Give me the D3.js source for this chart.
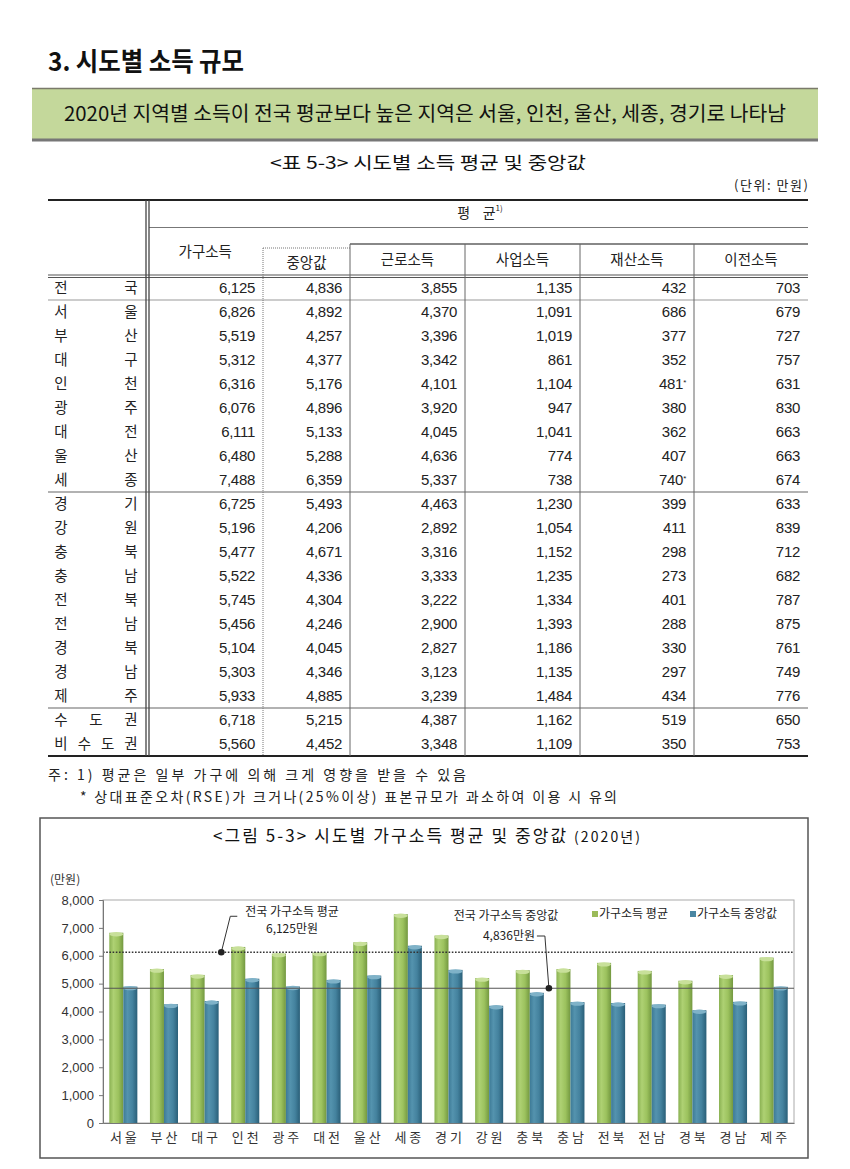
<!DOCTYPE html>
<html><head><meta charset="utf-8">
<script src="https://cdn.jsdelivr.net/npm/d3@7"></script>
<style>
body{margin:0;background:#fff;}
svg text{font-family:"Noto Sans CJK KR","Noto Sans",sans-serif;white-space:pre;}
.num{font-family:"Liberation Sans","Noto Sans CJK KR",sans-serif;}
</style></head><body>
<svg id="c" width="850" height="1169"></svg>
<script>
// ---------- DATA ----------
const regions = ["전국","서울","부산","대구","인천","광주","대전","울산","세종","경기","강원","충북","충남","전북","전남","경북","경남","제주","수도권","비수도권"];
const householdAvg    = [6125,6826,5519,5312,6316,6076,6111,6480,7488,6725,5196,5477,5522,5745,5456,5104,5303,5933,6718,5560];
const householdMedian = [4836,4892,4257,4377,5176,4896,5133,5288,6359,5493,4206,4671,4336,4304,4246,4045,4346,4885,5215,4452];
const laborIncome     = [3855,4370,3396,3342,4101,3920,4045,4636,5337,4463,2892,3316,3333,3222,2900,2827,3123,3239,4387,3348];
const businessIncome  = [1135,1091,1019,861,1104,947,1041,774,738,1230,1054,1152,1235,1334,1393,1186,1135,1484,1162,1109];
const propertyIncome  = [432,686,377,352,481,380,362,407,740,399,411,298,273,401,288,330,297,434,519,350];
const transferIncome  = [703,679,727,757,631,830,663,663,674,633,839,712,682,787,875,761,749,776,650,753];
const columnNames = ["가구소득","중앙값","근로소득","사업소득","재산소득","이전소득"];
const rseFlagged = [["인천","재산소득"],["세종","재산소득"]];
const chartRegions = regions.slice(1,18);
const chartAvg = householdAvg.slice(1,18);
const chartMedian = householdMedian.slice(1,18);
const yTickValues = [0,1000,2000,3000,4000,5000,6000,7000,8000];
const seriesNames = ["가구소득 평균","가구소득 중앙값"];
const nationalAvg = householdAvg[0], nationalMedian = householdMedian[0];

// ---------- LAYOUT ----------
const svg = d3.select("#c");
const fmt = d3.format(",");

// Heading
svg.append("text").attr("x",48).attr("y",71).attr("font-size",26).attr("font-weight",700)
  .attr("fill","#111").attr("textLength",196).attr("lengthAdjust","spacingAndGlyphs")
  .text("3. 시도별 소득 규모");

// Banner
svg.append("rect").attr("x",32).attr("y",88).attr("width",786).attr("height",52).attr("fill","#c4d89b");
svg.append("line").attr("x1",32).attr("x2",818).attr("y1",88.5).attr("y2",88.5).attr("stroke","#7a7a6a").attr("stroke-width",1.5);
svg.append("line").attr("x1",32).attr("x2",818).attr("y1",140).attr("y2",140).attr("stroke","#777").attr("stroke-width",3);
svg.append("text").attr("x",425).attr("y",114).attr("dy","0.36em").attr("text-anchor","middle")
  .attr("font-size",20).attr("fill","#111").attr("textLength",722).attr("lengthAdjust","spacingAndGlyphs")
  .text("2020년 지역별 소득이 전국 평균보다 높은 지역은 서울, 인천, 울산, 세종, 경기로 나타남");

// Table title
svg.append("text").attr("x",428).attr("y",163).attr("dy","0.36em").attr("text-anchor","middle")
  .attr("font-size",17).attr("fill","#111").attr("textLength",316).attr("lengthAdjust","spacingAndGlyphs")
  .text("<표 5-3> 시도별 소득 평균 및 중앙값");
svg.append("text").attr("x",808).attr("y",185).attr("dy","0.36em").attr("text-anchor","end")
  .attr("font-size",13).attr("fill","#222").attr("textLength",74).attr("lengthAdjust","spacing").text("(단위: 만원)");

// Table structure
const T = {left:48,right:808,top:200,headBottom:276,rowH:24};
const colEdges = [147.5,263,350,465,580,694,808];
const colData = [householdAvg,householdMedian,laborIncome,businessIncome,propertyIncome,transferIncome];
const tb = svg.append("g");
const rowY = d3.scaleLinear().domain([0,1]).range([T.headBottom, T.headBottom+T.rowH]);
const bottomY = rowY(regions.length);
function hline(x1,x2,y,w,c,dash){const l=tb.append("line").attr("x1",x1).attr("x2",x2).attr("y1",y).attr("y2",y).attr("stroke",c).attr("stroke-width",w); if(dash) l.attr("stroke-dasharray",dash); return l;}
function vline(x,y1,y2,w,c,dash){const l=tb.append("line").attr("x1",x).attr("x2",x).attr("y1",y1).attr("y2",y2).attr("stroke",c).attr("stroke-width",w); if(dash) l.attr("stroke-dasharray",dash); return l;}
hline(T.left,T.right,T.top,2,"#222");
hline(149,T.right,227.5,1,"#777");
hline(350,T.right,244,2,"#888");
hline(263,350,248,1,"#777","1,1");
hline(T.left,T.right,275,1.2,"#555");
hline(T.left,T.right,277.5,1.2,"#555");
hline(T.left,T.right,rowY(1),1,"#999");
hline(T.left,T.right,rowY(9),1.2,"#666");
hline(T.left,T.right,rowY(18),1.2,"#666");
hline(T.left,T.right,bottomY,2,"#222");
vline(146,T.top,bottomY,1.3,"#444");
vline(149,T.top,bottomY,1.3,"#444");
vline(263,248,bottomY,1,"#777","1,1");
[350,465,580,694].forEach(x=>vline(x,244,bottomY,1,"#666"));

// Header text
const hdr = tb.append("text").attr("x",480).attr("y",213).attr("dy","0.36em").attr("text-anchor","middle")
  .attr("font-size",14).attr("fill","#222");
hdr.append("tspan").text("평    균");
hdr.append("tspan").attr("font-size",8).attr("dy","-0.9em").text("1)");
const headerY = [252,263,260,260,260,260];
columnNames.forEach((n,i)=>{
  tb.append("text").attr("x",(colEdges[i]+colEdges[i+1])/2).attr("y",headerY[i]).attr("dy","0.36em")
    .attr("text-anchor","middle").attr("font-size",14.5).attr("fill","#222").text(n);
});

// Rows
regions.forEach((r,ri)=>{
  const cy = rowY(ri+0.5);
  const chars = r.split("");
  const px = d3.scaleLinear().domain([0,chars.length-1]).range([61,131]);
  chars.forEach((ch,ci)=>{
    tb.append("text").attr("x",px(ci)).attr("y",cy).attr("dy","0.36em").attr("text-anchor","middle")
      .attr("font-size",14.5).attr("fill","#222").text(ch);
  });
  colData.forEach((arr,ci)=>{
    const flagged = rseFlagged.some(f=>f[0]===r && f[1]===columnNames[ci]);
    const t = tb.append("text").attr("class","num").attr("x",colEdges[ci+1]-8).attr("y",cy).attr("dy","0.36em")
      .attr("text-anchor","end").attr("font-size",15).attr("letter-spacing","-0.3").attr("fill","#222");
    if(flagged){
      t.append("tspan").text(fmt(arr[ri]));
      t.append("tspan").attr("font-size",8).attr("dy","-0.6em").text("*");
    } else t.text(fmt(arr[ri]));
  });
});

// Notes
svg.append("text").attr("x",48).attr("y",775).attr("dy","0.36em").attr("font-size",14).attr("fill","#222")
  .attr("textLength",418).attr("lengthAdjust","spacing").text("주: 1) 평균은 일부 가구에 의해 크게 영향을 받을 수 있음");
svg.append("text").attr("x",80).attr("y",797).attr("dy","0.36em").attr("font-size",14).attr("fill","#222")
  .attr("textLength",537).attr("lengthAdjust","spacing").text("* 상대표준오차(RSE)가 크거나(25%이상) 표본규모가 과소하여 이용 시 유의");

// ---------- CHART ----------
const box = {x:40,y:818,w:768,h:340};
svg.append("rect").attr("x",box.x).attr("y",box.y).attr("width",box.w).attr("height",box.h)
  .attr("fill","#fff").attr("stroke","#555").attr("stroke-width",1.5);
const ct = svg.append("text").attr("x",213).attr("y",836).attr("dy","0.36em")
  .attr("fill","#111").attr("textLength",427).attr("lengthAdjust","spacing");
ct.append("tspan").attr("font-size",17).text("<그림 5-3> 시도별 가구소득 평균 및 중앙값 ");
ct.append("tspan").attr("font-size",14).text("(2020년)");

const P = {l:103,r:794,t:900,b:1123};
const x0 = d3.scaleBand().domain(chartRegions).range([P.l,P.r]).paddingInner(0.31).paddingOuter(0.155);
const x1 = d3.scaleBand().domain(seriesNames).range([0,x0.bandwidth()]);
const y = d3.scaleLinear().domain([0,8000]).range([P.b,P.t]);

// plot frame
svg.append("rect").attr("x",P.l).attr("y",P.t).attr("width",P.r-P.l).attr("height",P.b-P.t)
  .attr("fill","none").attr("stroke","#aaa").attr("stroke-width",1);

const defs = svg.append("defs");
function grad(id,stops){
  const g = defs.append("linearGradient").attr("id",id).attr("x1","0").attr("x2","1").attr("y1","0").attr("y2","0");
  stops.forEach(s=>g.append("stop").attr("offset",s[0]).attr("stop-color",s[1]));
}
grad("gGreen",[[0,"#8ab152"],[0.3,"#aed173"],[0.65,"#9cc25e"],[1,"#739840"]]);
grad("gBlue",[[0,"#3d7a96"],[0.3,"#5493ae"],[0.65,"#44829e"],[1,"#2a5f78"]]);
const fills = {"가구소득 평균":"url(#gGreen)","가구소득 중앙값":"url(#gBlue)"};
const caps = {"가구소득 평균":"#c8e09a","가구소득 중앙값":"#7fb2c8"};
const solid = {"가구소득 평균":"#9bbb59","가구소득 중앙값":"#4a86a2"};

const barData = [];
chartRegions.forEach((r,i)=>{
  barData.push({region:r,series:seriesNames[0],value:chartAvg[i]});
  barData.push({region:r,series:seriesNames[1],value:chartMedian[i]});
});
const bars = svg.append("g");
bars.selectAll("rect").data(barData).join("rect")
  .attr("x",d=>x0(d.region)+x1(d.series))
  .attr("y",d=>y(d.value))
  .attr("width",x1.bandwidth())
  .attr("height",d=>y(0)-y(d.value))
  .attr("fill",d=>fills[d.series]);
bars.selectAll("ellipse").data(barData).join("ellipse")
  .attr("cx",d=>x0(d.region)+x1(d.series)+x1.bandwidth()/2)
  .attr("cy",d=>y(d.value)+1.5)
  .attr("rx",x1.bandwidth()/2)
  .attr("ry",2.2)
  .attr("fill",d=>caps[d.series]);

// reference lines
svg.append("line").attr("x1",P.l).attr("x2",P.r).attr("y1",y(nationalAvg)).attr("y2",y(nationalAvg))
  .attr("stroke","#333").attr("stroke-width",1.6).attr("stroke-dasharray","1.6,1.6");
svg.append("line").attr("x1",P.l).attr("x2",P.r).attr("y1",y(nationalMedian)).attr("y2",y(nationalMedian))
  .attr("stroke","#555").attr("stroke-width",1.1);

// axes
const yAxis = svg.append("g").attr("transform",`translate(${P.l},0)`)
  .call(d3.axisLeft(y).tickValues(yTickValues).tickFormat(fmt).tickSize(4).tickPadding(5));
yAxis.select(".domain").attr("stroke","#777");
yAxis.selectAll(".tick line").attr("stroke","#777");
yAxis.selectAll("text").attr("font-size",13).attr("fill","#333")
  .style("font-family","'Liberation Sans','Noto Sans CJK KR',sans-serif");
const xAxis = svg.append("g").attr("transform",`translate(0,${P.b})`)
  .call(d3.axisBottom(x0).tickSize(0).tickPadding(10).tickFormat(d=>d.split("").join(" ")));
xAxis.select(".domain").attr("stroke","#777");
xAxis.selectAll("text").attr("font-size",13).attr("fill","#333")
  .style("font-family","'Noto Sans CJK KR',sans-serif");

svg.append("text").attr("x",50).attr("y",880).attr("dy","0.36em").attr("font-size",12).attr("fill","#333").text("(만원)");

// annotations
const step = x0.step();
const ax1 = x0("대구")+x0.bandwidth()/2+step*0.41, ay1 = y(nationalAvg);
svg.append("polyline").attr("points",`${ax1},${ay1} ${ax1+9},${ay1-36} ${ax1+16},${ay1-36}`)
  .attr("fill","none").attr("stroke","#333").attr("stroke-width",1);
svg.append("circle").attr("cx",ax1).attr("cy",ay1).attr("r",3.3).attr("fill","#222");
svg.append("text").attr("x",292).attr("y",912).attr("dy","0.36em").attr("text-anchor","middle").attr("font-size",12).attr("fill","#222").text("전국 가구소득 평균");
svg.append("text").attr("x",292).attr("y",929).attr("dy","0.36em").attr("text-anchor","middle").attr("font-size",12).attr("fill","#222").text(fmt(nationalAvg)+"만원");

const ax2 = x0("충북")+x0.bandwidth()/2+step*0.47, ay2 = y(nationalMedian);
svg.append("polyline").attr("points",`${ax2},${ay2} ${ax2-4},${936} ${ax2-12},${936}`)
  .attr("fill","none").attr("stroke","#333").attr("stroke-width",1);
svg.append("circle").attr("cx",ax2).attr("cy",ay2).attr("r",3.3).attr("fill","#222");
svg.append("text").attr("x",506).attr("y",916).attr("dy","0.36em").attr("text-anchor","middle").attr("font-size",12).attr("fill","#222").text("전국 가구소득 중앙값");
svg.append("text").attr("x",535).attr("y",936).attr("dy","0.36em").attr("text-anchor","end").attr("font-size",12).attr("fill","#222").text(fmt(nationalMedian)+"만원");

// legend
const lg = svg.append("g");
const legendX = [592,690];
seriesNames.forEach((s,i)=>{
  lg.append("rect").attr("x",legendX[i]).attr("y",911).attr("width",6).attr("height",6).attr("fill",solid[s]);
  lg.append("text").attr("x",legendX[i]+7).attr("y",914).attr("dy","0.36em").attr("font-size",12).attr("fill","#222").text(s);
});
</script>
</body></html>
